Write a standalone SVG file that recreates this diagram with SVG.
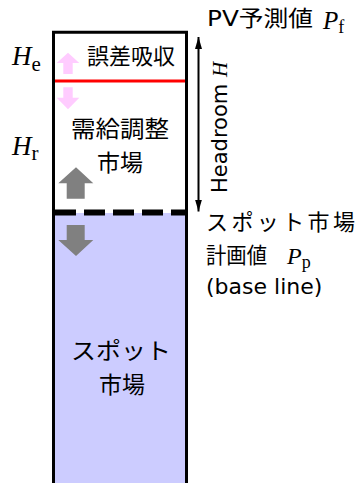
<svg xmlns="http://www.w3.org/2000/svg" width="356" height="483" viewBox="0 0 356 483">
<style>
.t{font-family:"DejaVu Sans","Noto Sans CJK JP",sans-serif;fill:#000}
.j{font-family:"Noto Sans CJK JP",sans-serif;fill:#000}
.m{font-family:"Liberation Serif",serif;font-style:italic;fill:#000}
.s{font-family:"Liberation Serif",serif;font-style:normal;fill:#000}
.edge{stroke:#000;stroke-width:3;fill:none}
.pink{fill:#ffccff}
.gray{fill:#808080}
</style>
<defs>
<marker id="ah" viewBox="0 0 12 7" refX="12" refY="3.5" markerWidth="12" markerHeight="7" orient="auto-start-reverse" markerUnits="userSpaceOnUse">
<path d="M0,0 L12,3.5 L0,7 Z" fill="#000"/>
</marker>
</defs>
<rect width="356" height="483" fill="#fff"/>

<g id="spot-market">
<rect x="53.5" y="213" width="133" height="270" fill="#ccccff"/>
<text class="j" font-size="23" text-anchor="middle"><tspan x="121" y="359" textLength="100" lengthAdjust="spacingAndGlyphs">スポット</tspan><tspan x="122" y="392.5">市場</tspan></text>
</g>

<g id="error-band">
<text class="j" font-size="22" x="87" y="63.5">誤差吸収</text>
</g>

<g id="dr-market">
<text class="j" font-size="23" text-anchor="middle"><tspan x="120" y="137" textLength="98" lengthAdjust="spacingAndGlyphs">需給調整</tspan><tspan x="120" y="170.5">市場</tspan></text>
</g>

<g id="box">
<path class="edge" d="M53.5,483 V32.3 H186.5 V483"/>
<line x1="55" y1="81" x2="185" y2="81" stroke="#ff0000" stroke-width="3"/>
<line x1="55" y1="212.5" x2="185" y2="212.5" stroke="#000" stroke-width="6" stroke-dasharray="21 8"/>
</g>

<g id="connectors">
<polygon class="pink" points="68,52.7 79.3,63 72.7,63 72.7,74 63.3,74 63.3,63 56.7,63"/>
<polygon class="pink" points="63.3,87.3 72.7,87.3 72.7,97.7 79.3,97.7 68,109.3 56.7,97.7 63.3,97.7"/>
<polygon class="gray" points="76,167.3 93.3,183.3 84.7,183.3 84.7,198.7 66.7,198.7 66.7,183.3 58.3,183.3"/>
<polygon class="gray" points="66.7,225 84.7,225 84.7,240 93.3,240 76,256 58.3,240 66.7,240"/>
<line x1="198.5" y1="37" x2="198.5" y2="211.5" stroke="#000" stroke-width="2" marker-start="url(#ah)" marker-end="url(#ah)"/>
</g>

<g id="labels">
<text class="m" font-size="27" x="12" y="64.5">H<tspan class="s" font-size="21" dy="6.5">e</tspan></text>
<text class="m" font-size="27" x="12" y="155">H<tspan class="s" font-size="21" dy="4.5">r</tspan></text>
<text class="t" font-size="22" x="207" y="26" textLength="106" lengthAdjust="spacingAndGlyphs">PV予測値</text>
<text class="m" font-size="25" x="323" y="28.5">P<tspan class="s" font-size="18" dy="4">f</tspan></text>
<text class="t" font-size="21" transform="translate(226.5,193) rotate(-90)">Headroom <tspan class="m">H</tspan></text>
<text class="t" font-size="22" x="206" y="230" textLength="149" lengthAdjust="spacing">スポット市場</text>
<text class="t" font-size="22" x="206" y="263" textLength="61" lengthAdjust="spacingAndGlyphs">計画値</text>
<text class="m" font-size="24" x="287" y="264">P<tspan class="s" font-size="18" dy="4">p</tspan></text>
<text class="t" font-size="22" x="206" y="294">(base line)</text>
</g>
</svg>
